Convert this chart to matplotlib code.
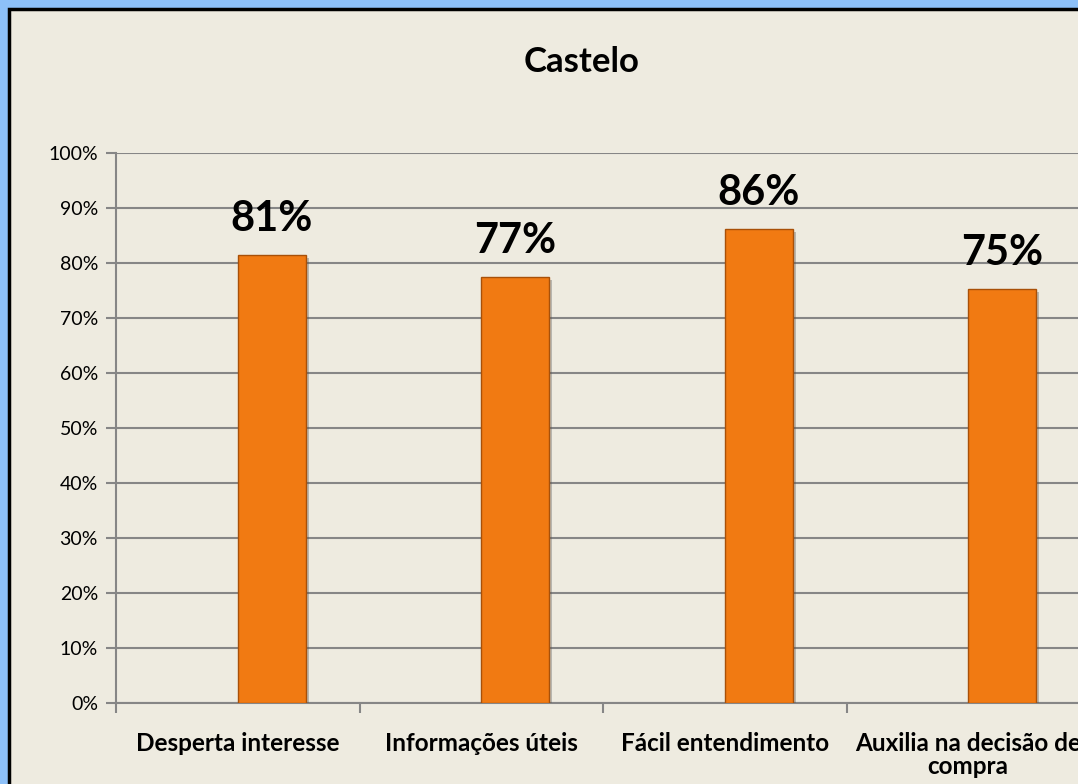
import matplotlib
matplotlib.use("Agg")
import matplotlib.pyplot as plt
import matplotlib.patheffects as pe
from matplotlib.patches import Rectangle
from matplotlib.ticker import PercentFormatter, FixedLocator

plt.rcParams['font.family'] = ['Lato', 'DejaVu Sans']

# dados
categorias = ["Desperta interesse", "Informações úteis", "Fácil entendimento",
              "Auxilia na decisão de\ncompra"]
valores = [0.815, 0.775, 0.862, 0.753]
titulo = "Castelo"

fig = plt.figure(figsize=(10.78, 7.84), dpi=100, facecolor='#8DC0F8')

# painel interno (fundo bege com borda preta)
painel = Rectangle((9 / 1078, -0.1), 1.2, (784 - 9) / 784 + 0.1,
                   transform=fig.transFigure, facecolor='#EEEBE0',
                   edgecolor='black', linewidth=2.5, zorder=-10)
fig.patches.append(painel)

ax = fig.add_axes([116 / 1078, 81 / 784, 974 / 1078, 550 / 784])
ax.set_facecolor('none')

x = list(range(len(categorias)))
largura = 0.28
# barras começam no centro da categoria (como no Excel com série vazia ao lado)
barras = ax.bar(x, valores, width=largura, align='edge', color='#F17A12',
                edgecolor='#A85008', linewidth=1.0, zorder=3)
for b in barras:
    b.set_path_effects([pe.SimplePatchShadow(offset=(2, -2), alpha=0.35,
                                             shadow_rgbFace='#555555'),
                        pe.Normal()])

# rótulos de dados
for xi, v in zip(x, valores):
    ax.text(xi + largura / 2, v + 0.03, f"{int(v * 100)}%", ha='center',
            va='bottom', fontsize=30, fontweight='bold', zorder=4)

ax.set_xlim(-0.5, len(categorias) - 0.5)
ax.set_ylim(0, 1)
ax.yaxis.set_major_locator(FixedLocator([i / 10 for i in range(11)]))
ax.yaxis.set_major_formatter(PercentFormatter(1.0, decimals=0))
ax.grid(axis='y', color='#868686', linewidth=1.5, zorder=1)

ax.set_xticks(x)
ax.set_xticklabels(categorias, fontsize=17.5, fontweight='bold', linespacing=1.0)
ax.set_xticks([i - 0.5 for i in range(len(categorias))], minor=True)
ax.tick_params(axis='x', which='major', length=0, pad=21)
ax.tick_params(axis='x', which='minor', length=7, width=1.5, color='#868686')
ax.tick_params(axis='y', length=7, width=1.5, color='#868686', labelsize=14, pad=6)

for lado in ['top', 'right']:
    ax.spines[lado].set_visible(False)
ax.spines['left'].set_color('#868686')
ax.spines['left'].set_linewidth(1.5)
ax.spines['bottom'].set_color('#868686')
ax.spines['bottom'].set_linewidth(1.5)

fig.text(582 / 1078, (784 - 62) / 784, titulo, ha='center', va='center',
         fontsize=25, fontweight='bold')

fig.savefig('out.png', dpi=100, facecolor=fig.get_facecolor())
